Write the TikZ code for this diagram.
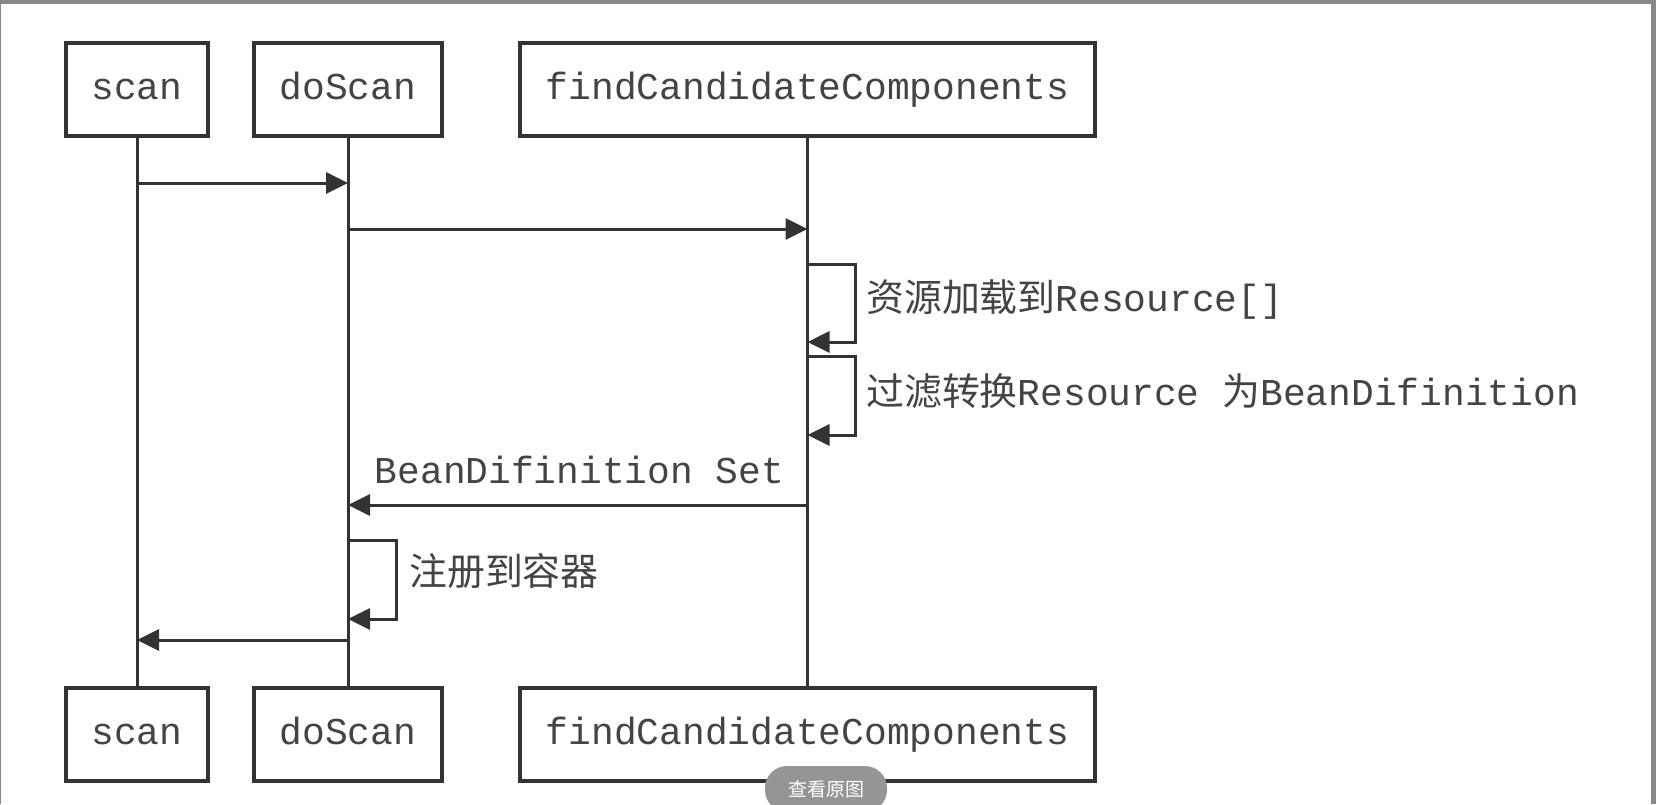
\documentclass[tikz,border=0pt]{standalone}
\usepackage{fontspec}
\setmonofont{Liberation Mono}
\newfontfamily\cjk{Noto Sans CJK SC}
\usetikzlibrary{arrows.meta}
\definecolor{ink}{HTML}{333333}
\definecolor{txt}{HTML}{444444}
\definecolor{frame}{HTML}{888888}
\definecolor{pill}{HTML}{959595}
\newcommand{\bigfont}{\fontsize{37.9}{42}\selectfont}
\tikzset{
  lifebox/.style={draw=ink, line width=3.5pt, rectangle, minimum height=93pt, inner sep=0pt, text height=26pt, text depth=7pt, font=\bigfont\ttfamily, text=txt},
  lifeline/.style={draw=ink, line width=3pt},
  msg/.style={draw=ink, line width=3pt, -{Triangle[length=22pt,width=21pt]}},
  lbl/.style={inner sep=0pt, anchor=west, text=txt, font=\bigfont}
}
\begin{document}
\begin{tikzpicture}[x=1pt,y=-1pt]
\useasboundingbox (0,0) rectangle (1656,804);
\fill[white] (0,0) rectangle (1656,804);
\fill[frame] (0,0) rectangle (1656,4);
\fill[frame] (1651,0) rectangle (1656,804);
\fill[frame] (0,0) rectangle (1.2,804);
% boxes
\node[lifebox, minimum width=142pt] (scanT) at (137,89.5) {scan};
\node[lifebox, minimum width=188pt] (doT) at (348,89.5) {doScan};
\node[lifebox, minimum width=575pt] (findT) at (807.5,89.5) {findCandidateComponents};
\node[lifebox, minimum width=142pt] (scanB) at (137,734.5) {scan};
\node[lifebox, minimum width=188pt] (doB) at (348,734.5) {doScan};
\node[lifebox, minimum width=575pt] (findB) at (807.5,734.5) {findCandidateComponents};
% lifelines
\draw[lifeline] (scanT.south) -- (scanB.north);
\draw[lifeline] (doT.south) -- (doB.north);
\draw[lifeline] (findT.south) -- (findB.north);
% message points
\coordinate (m1a) at (scanT.south |- 0,183);
\coordinate (m1b) at (doT.south |- 0,183);
\coordinate (m2a) at (doT.south |- 0,229);
\coordinate (m2b) at (findT.south |- 0,229);
\coordinate (s1a) at (findT.south |- 0,264);
\coordinate (s1b) at (findT.south |- 0,342);
\coordinate (s2a) at (findT.south |- 0,356);
\coordinate (s2b) at (findT.south |- 0,435);
\coordinate (r1a) at (findT.south |- 0,505);
\coordinate (r1b) at (doT.south |- 0,505);
\coordinate (s3a) at (doT.south |- 0,540);
\coordinate (s3b) at (doT.south |- 0,619);
\coordinate (r2a) at (doT.south |- 0,640);
\coordinate (r2b) at (scanT.south |- 0,640);
% messages
\draw[msg] (m1a) -- (m1b);
\draw[msg] (m2a) -- (m2b);
\draw[msg] (s1a) -- ++(48,0) |- (s1b);
\draw[msg] (s2a) -- ++(48,0) |- (s2b);
\draw[msg] (r1a) -- (r1b);
\draw[msg] (s3a) -- ++(48,0) |- (s3b);
\draw[msg] (r2a) -- (r2b);
% labels
\node[lbl] (l1) at (866,299) {{\cjk 资源加载到}\ttfamily Resource[]};
\node[lbl] (l2) at (866,391) {{\cjk 过滤转换}\ttfamily Resource {\cjk 为}BeanDifinition};
\node[lbl, anchor=center] (l3) at (579.5,470) {\ttfamily BeanDifinition Set};
\node[lbl] (l4) at (409,571) {\cjk 注册到容器};
% button
\node[fill=pill, rounded corners=22pt, minimum width=122pt, minimum height=46pt, inner sep=0pt, text=white, font=\fontsize{19}{20}\selectfont\cjk] (btn) at (826,789) {查看原图};
\end{tikzpicture}
\end{document}
